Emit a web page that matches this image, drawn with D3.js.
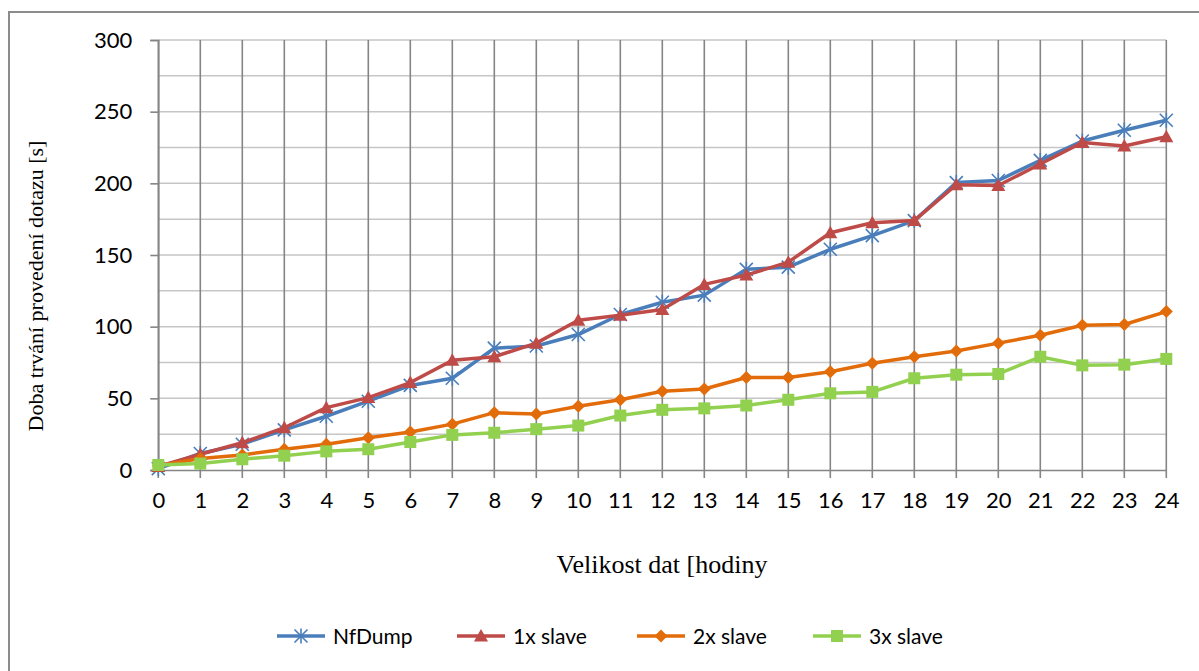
<!DOCTYPE html>
<html><head><meta charset="utf-8">
<script src="https://cdn.jsdelivr.net/npm/d3@7"></script>
<style>html,body{margin:0;padding:0;background:#fff;overflow:hidden}</style>
</head><body>
<svg id="c" width="1199" height="671"></svg>
<script>
const categories = [0,1,2,3,4,5,6,7,8,9,10,11,12,13,14,15,16,17,18,19,20,21,22,23,24];
const seriesNames = ["NfDump","1x slave","2x slave","3x slave"];
const nfdump  = [1,11.5,18,28,37.5,48,59,64,85,86.5,94.5,108.5,117,122,140,141.5,154,163.5,174,200.5,202,216,229.5,237,244];
const slave1  = [2.5,11,19,29.5,43.5,50.5,61,76.5,79,88.5,104.5,108,112,129.5,136,145,165.5,172.5,174,199,198.5,213.5,228.5,226,232.5];
const slave2  = [3,8,10.5,14.5,18,22.5,26.5,32,40,39,44.5,49,55,56.5,64.5,64.5,68.5,74.5,79,83,88.5,94,101,101.5,110.5];
const slave3  = [3.5,4.5,7.5,10,13,14.5,19.5,24.5,26,28.5,31,38,42,43,45,49,53.5,54.5,64,66.5,67,79,73,73.5,77.5];
const yTicks = [0,50,100,150,200,250,300];
const yMinor = [25,75,125,175,225,275];
const xTitle = "Velikost dat [hodiny";
const yTitle = "Doba trvání provedení dotazu [s]";

const colors = ["#4A7EBB","#BE4B48","#E36C0A","#92D050"];
const data = [nfdump, slave1, slave2, slave3];

const svg = d3.select("#c");
svg.append("rect").attr("x",9).attr("y",12).attr("width",1250).attr("height",700)
  .attr("fill","#fff").attr("stroke","#8c8c8c").attr("stroke-width",2);

const x = d3.scaleLinear().domain([0,24]).range([158.3,1166.3]);
const y = d3.scaleLinear().domain([0,300]).range([470,40]);

const g = svg.append("g");
g.selectAll(".hm").data(yMinor.concat(yTicks.filter(d=>d>0))).enter().append("line")
  .attr("x1",x(0)).attr("x2",x(24)).attr("y1",d=>y(d)).attr("y2",d=>y(d))
  .attr("stroke","#c6c6c6").attr("stroke-width",1.5);
g.selectAll(".vg").data(categories).enter().append("line")
  .attr("x1",d=>x(d)).attr("x2",d=>x(d)).attr("y1",y(300)).attr("y2",y(0)+8)
  .attr("stroke","#858585").attr("stroke-width",1.6);
const yAxis = d3.axisLeft(y).tickValues(yTicks).tickSize(8).tickPadding(18);
const ya = svg.append("g").attr("transform",`translate(${x(0)},0)`).call(yAxis);
ya.select(".domain").attr("stroke","#858585").attr("stroke-width",1.6);
ya.selectAll(".tick line").attr("stroke","#858585").attr("stroke-width",1.6);
ya.selectAll("text").attr("font-family","Lato, 'Open Sans', sans-serif").attr("font-size",22).attr("fill","#000");
const xAxis = d3.axisBottom(x).tickValues(categories).tickSize(0).tickPadding(22).tickFormat(d3.format("d"));
const xa = svg.append("g").attr("transform",`translate(0,${y(0)})`).call(xAxis);
xa.select(".domain").attr("stroke","#858585").attr("stroke-width",1.6);
xa.selectAll("text").attr("font-family","Lato, 'Open Sans', sans-serif").attr("font-size",22).attr("fill","#000");

svg.append("text").attr("x",662).attr("y",573).attr("text-anchor","middle")
  .attr("font-family","'Liberation Serif', 'Times New Roman', serif").attr("font-size",26).text(xTitle);
svg.append("text").attr("transform","translate(43,286) rotate(-90)").attr("text-anchor","middle")
  .attr("font-family","'Liberation Serif', 'Times New Roman', serif").attr("font-size",22).text(yTitle);

function marker(sel, i, cx, cy){
  const c = colors[i];
  if(i===0){
    const r=6.5;
    sel.append("path").attr("d",`M${cx-r},${cy-r}L${cx+r},${cy+r}M${cx-r},${cy+r}L${cx+r},${cy-r}M${cx},${cy-r-1}L${cx},${cy+r+1}`)
      .attr("stroke",c).attr("stroke-width",1.6).attr("fill","none");
  } else if(i===1){
    sel.append("path").attr("d",`M${cx},${cy-7}L${cx+7},${cy+5.5}L${cx-7},${cy+5.5}Z`).attr("fill",c);
  } else if(i===2){
    sel.append("path").attr("d",`M${cx},${cy-6.5}L${cx+6.5},${cy}L${cx},${cy+6.5}L${cx-6.5},${cy}Z`).attr("fill",c);
  } else {
    sel.append("rect").attr("x",cx-6).attr("y",cy-6).attr("width",12).attr("height",12).attr("fill",c);
  }
}

const line = d3.line().x((d,i)=>x(categories[i])).y(d=>y(d));
data.forEach((s,i)=>{
  const sg = svg.append("g");
  sg.append("path").datum(s).attr("d",line).attr("fill","none")
    .attr("stroke",colors[i]).attr("stroke-width",3.5).attr("stroke-linejoin","round");
  s.forEach((v,j)=>marker(sg,i,x(categories[j]),y(v)));
});

const legX = [277,457,637,813];
seriesNames.forEach((n,i)=>{
  const lg = svg.append("g");
  const ly = 636;
  lg.append("line").attr("x1",legX[i]).attr("x2",legX[i]+48).attr("y1",ly).attr("y2",ly)
    .attr("stroke",colors[i]).attr("stroke-width",3.5);
  marker(lg,i,legX[i]+24,ly);
  lg.append("text").attr("x",legX[i]+56).attr("y",ly+7.5).attr("font-family","Lato, 'Open Sans', sans-serif")
    .attr("font-size",21).attr("fill","#000").text(n);
});
</script>
</body></html>
